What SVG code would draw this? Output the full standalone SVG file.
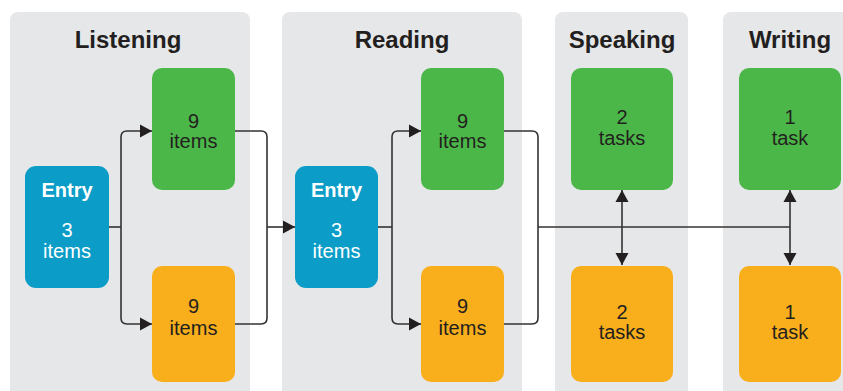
<svg xmlns="http://www.w3.org/2000/svg" width="843" height="391" viewBox="0 0 843 391">
  <style>
    .panel { fill: #e6e7e9; }
    .green { fill: #4cb749; }
    .orange { fill: #f9ae1b; }
    .blue { fill: #0b9dc7; }
    .title { font-family: "Liberation Sans", Arial, sans-serif; font-size: 24px; font-weight: bold; fill: #231f20; text-anchor: middle; }
    .lbl { font-family: "Liberation Sans", Arial, sans-serif; font-size: 20px; fill: #231f20; text-anchor: middle; }
    .wlbl { font-family: "Liberation Sans", Arial, sans-serif; font-size: 20px; fill: #ffffff; text-anchor: middle; }
    .wbold { font-weight: bold; }
    .conn { fill: none; stroke: #333333; stroke-width: 1.6; }
  </style>
  <defs>
    <marker id="arrow" markerUnits="userSpaceOnUse" markerWidth="13" markerHeight="14" refX="12" refY="7" orient="auto-start-reverse">
      <path d="M0,0.5 L12,7 L0,13.5 z" fill="#231f20"/>
    </marker>
  </defs>
  <rect width="843" height="391" fill="#ffffff"/>

  <g id="panel-listening">
    <rect class="panel" x="10" y="12" width="240" height="395" rx="8"/>
    <text class="title" x="128" y="48">Listening</text>
  </g>
  <g id="panel-reading">
    <rect class="panel" x="282" y="12" width="240" height="395" rx="8"/>
    <text class="title" x="402" y="48">Reading</text>
  </g>
  <g id="panel-speaking">
    <rect class="panel" x="555" y="12" width="133" height="395" rx="8"/>
    <text class="title" x="622" y="48">Speaking</text>
  </g>
  <g id="panel-writing">
    <rect class="panel" x="723" y="12" width="135" height="395" rx="8"/>
    <text class="title" x="790" y="48">Writing</text>
  </g>

  <g id="connectors">
    <path class="conn" d="M109,227 H121"/>
    <path class="conn" d="M121,227 V137 Q121,131 127,131 H152" marker-end="url(#arrow)"/>
    <path class="conn" d="M121,227 V318 Q121,324 127,324 H152" marker-end="url(#arrow)"/>
    <path class="conn" d="M235,131 H261 Q267,131 267,137 V318 Q267,324 261,324 H235"/>
    <path class="conn" d="M267,227 H295" marker-end="url(#arrow)"/>
    <path class="conn" d="M378,227 H392"/>
    <path class="conn" d="M392,227 V137 Q392,131 398,131 H421" marker-end="url(#arrow)"/>
    <path class="conn" d="M392,227 V318 Q392,324 398,324 H421" marker-end="url(#arrow)"/>
    <path class="conn" d="M504,131 H532 Q538,131 538,137 V318 Q538,324 532,324 H504"/>
    <path class="conn" d="M538,227 H790"/>
    <path class="conn" d="M622,190 V265" marker-start="url(#arrow)" marker-end="url(#arrow)"/>
    <path class="conn" d="M790,190 V265" marker-start="url(#arrow)" marker-end="url(#arrow)"/>
  </g>

  <g id="listening-entry">
    <rect class="blue" x="25" y="166" width="84" height="122" rx="11"/>
    <text class="wlbl wbold" x="67" y="197">Entry</text>
    <text class="wlbl" x="67" y="237">3</text>
    <text class="wlbl" x="67" y="258">items</text>
  </g>
  <g id="listening-green">
    <rect class="green" x="152" y="68" width="83" height="122" rx="10"/>
    <text class="lbl" x="193.5" y="128">9</text>
    <text class="lbl" x="193.5" y="148">items</text>
  </g>
  <g id="listening-orange">
    <rect class="orange" x="152" y="266" width="83" height="116" rx="10"/>
    <text class="lbl" x="193.5" y="313">9</text>
    <text class="lbl" x="193.5" y="335">items</text>
  </g>

  <g id="reading-entry">
    <rect class="blue" x="295" y="166" width="83" height="122" rx="11"/>
    <text class="wlbl wbold" x="336.5" y="197">Entry</text>
    <text class="wlbl" x="336.5" y="237">3</text>
    <text class="wlbl" x="336.5" y="258">items</text>
  </g>
  <g id="reading-green">
    <rect class="green" x="421" y="68" width="83" height="122" rx="10"/>
    <text class="lbl" x="462.5" y="128">9</text>
    <text class="lbl" x="462.5" y="148">items</text>
  </g>
  <g id="reading-orange">
    <rect class="orange" x="421" y="266" width="83" height="116" rx="10"/>
    <text class="lbl" x="462.5" y="313">9</text>
    <text class="lbl" x="462.5" y="335">items</text>
  </g>

  <g id="speaking-green">
    <rect class="green" x="571" y="68" width="102" height="122" rx="10"/>
    <text class="lbl" x="622" y="124">2</text>
    <text class="lbl" x="622" y="145">tasks</text>
  </g>
  <g id="speaking-orange">
    <rect class="orange" x="571" y="266" width="102" height="116" rx="10"/>
    <text class="lbl" x="622" y="319">2</text>
    <text class="lbl" x="622" y="339">tasks</text>
  </g>

  <g id="writing-green">
    <rect class="green" x="739" y="68" width="102" height="122" rx="10"/>
    <text class="lbl" x="790" y="124">1</text>
    <text class="lbl" x="790" y="145">task</text>
  </g>
  <g id="writing-orange">
    <rect class="orange" x="739" y="266" width="102" height="116" rx="10"/>
    <text class="lbl" x="790" y="319">1</text>
    <text class="lbl" x="790" y="339">task</text>
  </g>
</svg>
